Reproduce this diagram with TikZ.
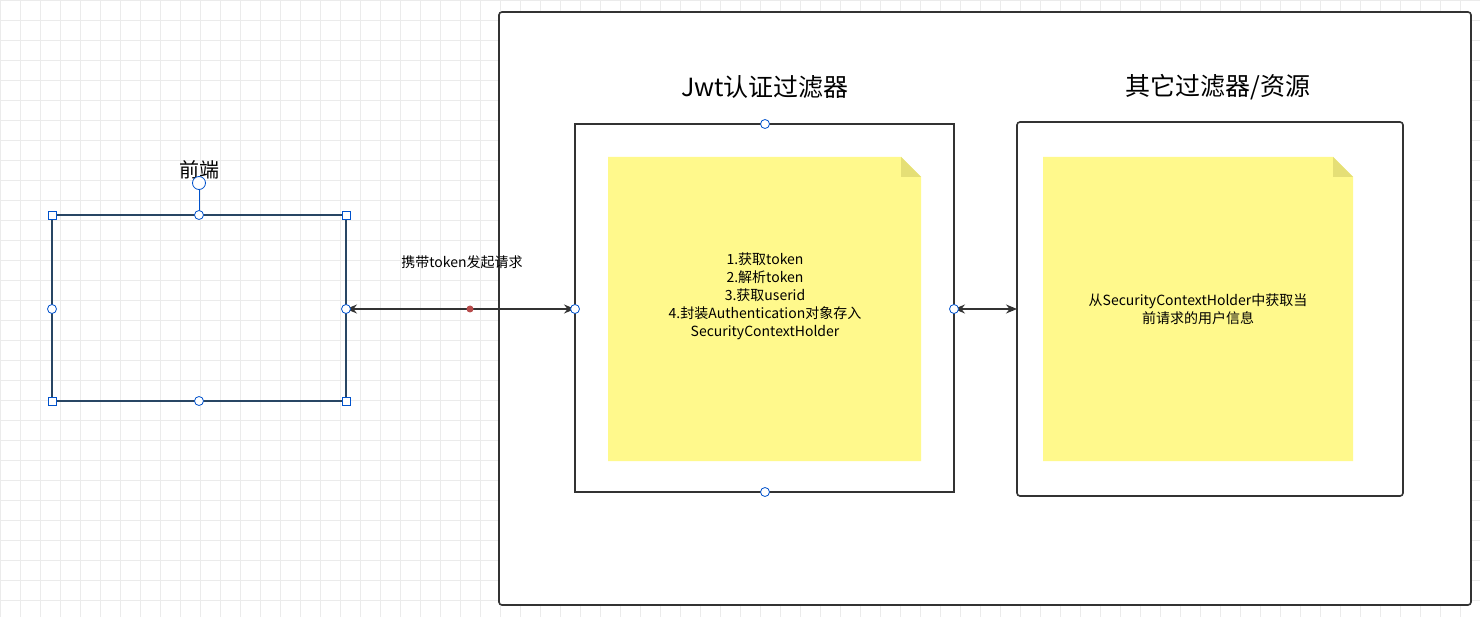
\documentclass[tikz,border=0pt]{standalone}
\usetikzlibrary{arrows.meta}
\usepackage{fontspec}
\setmainfont{Noto Sans CJK SC}
\begin{document}
\begin{tikzpicture}[x=1pt,y=-1pt,
  box/.style={draw=black!80,line width=1.6pt},
  note/.style={fill=yellow!45!white,draw=none},
  hc/.style={circle,draw=blue!60!cyan!80!black,fill=white,inner sep=0pt,minimum size=9pt,line width=0.8pt},
  hs/.style={rectangle,draw=blue!60!cyan!80!black,fill=white,inner sep=0pt,minimum size=8pt,line width=0.8pt},
  lab/.style={font=\fontsize{14}{18}\selectfont,align=center},
  ttl/.style={font=\fontsize{25}{29}\selectfont},
  arr/.style={line width=1.2pt,black!80,{Stealth[length=11pt,width=9pt]}-{Stealth[length=11pt,width=9pt]}}]
\useasboundingbox (0,0) rectangle (1480,617);
\fill[white] (0,0) rectangle (1480,617);
\draw[black!8,line width=0.6pt,step=20pt] (0,0) grid (1480,617);
\draw[box,fill=white,rounded corners=3pt] (499,12) rectangle (1471,605);
\node[ttl] (t1) at (765,87) {Jwt认证过滤器};
\node[ttl] (t2) at (1218,87) {其它过滤器/资源};
\draw[box] (575,124) rectangle (954,492);
\coordinate (jl) at (575,309); \coordinate (jr) at (954,309);
\draw[box,rounded corners=3pt] (1017,122) rectangle (1403,496);
\coordinate (ol) at (1017,309);
\fill[note] (608,157) -- (901,157) -- (921,177) -- (921,461) -- (608,461) -- cycle;
\fill[yellow!45!black!35!yellow!60] (901,157) -- (921,177) -- (901,177) -- cycle;
\fill[note] (1043,157) -- (1333,157) -- (1353,177) -- (1353,461) -- (1043,461) -- cycle;
\fill[yellow!45!black!35!yellow!60] (1333,157) -- (1353,177) -- (1333,177) -- cycle;
\node[lab] (n1) at (765,296) {1.获取token\\2.解析token\\3.获取userid\\4.封装Authentication对象存入\\SecurityContextHolder};
\node[lab] (n2) at (1198,309) {从SecurityContextHolder中获取当\\前请求的用户信息};
\node[font=\fontsize{20}{24}\selectfont] (fe) at (199,170) {前端};
\draw[line width=1.6pt,draw={rgb,255:red,40;green,70;blue,100}] (52,215) rectangle (346,401);
\coordinate (fr) at (346,309);
\draw[arr] (fr) -- (jl);
\draw[arr] (jr) -- (ol);
\node[lab] (al) at (462,262) {携带token发起请求};
\fill[red!60!black!70] (470,309) circle (3.5pt);
\draw[blue!60!cyan!80!black,line width=1pt] (199,215) -- (199,183);
\foreach \p in {(52,215),(346,215),(52,401),(346,401)} \node[hs] at \p {};
\foreach \p in {(199,215),(52,309),(346,309),(199,401)} \node[hc] at \p {};
\node[hc,minimum size=13pt] (rot) at (199,183) {};
\foreach \p in {(765,124),(765,492),(575,309),(954,309)} \node[hc] at \p {};
\end{tikzpicture}
\end{document}
